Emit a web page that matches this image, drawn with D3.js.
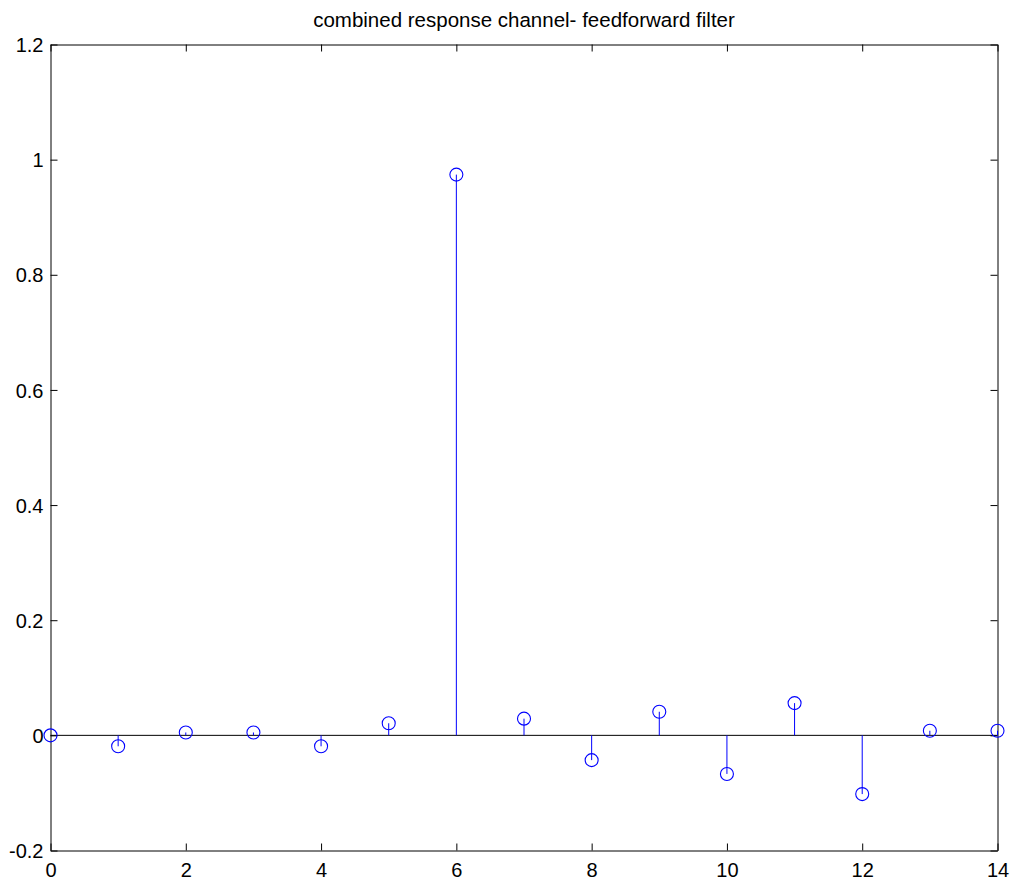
<!DOCTYPE html>
<html><head><meta charset="utf-8">
<script src="https://cdn.jsdelivr.net/npm/d3@7"></script>
<style>body{margin:0;background:#fff;} text{font-family:"Liberation Sans",Arial,sans-serif;}</style>
</head><body>
<svg id="c" width="1014" height="879"></svg>
<script>
const title = "combined response channel- feedforward filter";
const xs = [0,1,2,3,4,5,6,7,8,9,10,11,12,13,14];
const ys = [0,-0.019,0.005,0.005,-0.019,0.021,0.974,0.029,-0.043,0.041,-0.067,0.056,-0.102,0.008,0.008];
const xTicks = [0,2,4,6,8,10,12,14];
const yTicks = [-0.2,0,0.2,0.4,0.6,0.8,1,1.2];

const L=50.5,R=997.5,T=44.5,B=850.5;
const svg=d3.select("#c");
const x=d3.scaleLinear().domain([0,14]).range([L,R]);
const y=d3.scaleLinear().domain([-0.2,1.2]).range([B,T]);
const fmt=d=>String(+d.toFixed(1));

const gb=svg.append("g").attr("transform",`translate(0,${B})`)
 .call(d3.axisBottom(x).tickValues(xTicks).tickSizeInner(-7).tickSizeOuter(0).tickFormat(fmt));
const gt=svg.append("g").attr("transform",`translate(0,${T})`)
 .call(d3.axisTop(x).tickValues(xTicks).tickSizeInner(-7).tickSizeOuter(0).tickFormat(""));
const gl=svg.append("g").attr("transform",`translate(${L},0)`)
 .call(d3.axisLeft(y).tickValues(yTicks).tickSizeInner(-7).tickSizeOuter(0).tickFormat(fmt));
const gr=svg.append("g").attr("transform",`translate(${R},0)`)
 .call(d3.axisRight(y).tickValues(yTicks).tickSizeInner(-7).tickSizeOuter(0).tickFormat(""));
[gb,gt,gl,gr].forEach(g=>{
  g.select(".domain").attr("stroke","#000").attr("stroke-width",1);
  g.selectAll(".tick line").attr("stroke","#000");
  g.selectAll("text").attr("font-size",20).attr("fill","#000").attr("font-family","Liberation Sans, Arial, sans-serif");
});
gb.selectAll("text").attr("y",26.5).attr("dy",0);
gl.selectAll("text").attr("x",-7).attr("dy","0.36em");

// baseline
svg.append("line").attr("x1",x(0)).attr("x2",x(14)).attr("y1",y(0)).attr("y2",y(0)).attr("stroke","#000").attr("stroke-width",1);

const g=svg.append("g");
g.selectAll("line.stem").data(xs).enter().append("line").attr("class","stem")
 .attr("x1",(d)=>x(d)).attr("x2",d=>x(d)).attr("y1",y(0)).attr("y2",(d,i)=>y(ys[i]))
 .attr("stroke","#0000ff").attr("stroke-width",1);
g.selectAll("circle").data(xs).enter().append("circle")
 .attr("cx",d=>x(d)).attr("cy",(d,i)=>y(ys[i])).attr("r",6.5)
 .attr("fill","none").attr("stroke","#0000ff").attr("stroke-width",1.1);

svg.append("text").attr("x",(L+R)/2).attr("y",27).attr("text-anchor","middle")
 .attr("font-size",20.5).attr("fill","#000").text(title);
</script>
</body></html>
